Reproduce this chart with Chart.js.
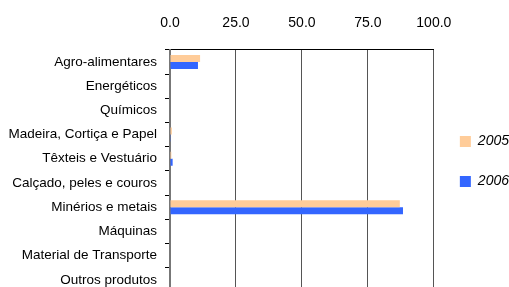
<html>
  <head>
    <meta charset="utf-8" />
    <script src="https://cdn.jsdelivr.net/npm/chart.js@4.4.1/dist/chart.umd.min.js"></script>
    <style>
      body { margin: 0; overflow: hidden; background: #fff; }
    </style>
  </head>
  <body>
    <canvas id="chart" width="509" height="308"></canvas>
    <script>
      var categories = [
        "Agro-alimentares",
        "Energéticos",
        "Químicos",
        "Madeira, Cortiça e Papel",
        "Têxteis e Vestuário",
        "Calçado, peles e couros",
        "Minérios e metais",
        "Máquinas",
        "Material de Transporte",
        "Outros produtos",
      ];
      var values2005 = [11.4, 0, 0, 0.7, 0.5, 0, 87.1, 0, 0, 0];
      var values2006 = [10.6, 0, 0, 0.1, 1.0, 0, 88.3, 0, 0, 0];
      var seriesLabels = ["2005", "2006"];

      Chart.defaults.font.family = "'Liberation Sans Narrow', 'Arial Narrow', 'Liberation Sans', sans-serif";
      Chart.defaults.color = "#000";

      var ctx = document.getElementById("chart").getContext("2d");
      var myChart = new Chart(ctx, {
        type: "bar",
        data: {
          labels: categories,
          datasets: [
            {
              label: seriesLabels[0],
              data: values2005,
              backgroundColor: "#FFCC99",
            },
            {
              label: seriesLabels[1],
              data: values2006,
              backgroundColor: "#3366FF",
            },
          ],
        },
        options: {
          responsive: false,
          animation: false,
          indexAxis: "y",
          categoryPercentage: 0.58,
          barPercentage: 1,
          layout: { padding: { left: 0, right: -10, top: -3, bottom: 0 } },
          plugins: {
            legend: {
              position: "right",
              // empty title only pushes the legend items down a bit
              title: {
                display: true,
                text: " ",
                font: { size: 10, lineHeight: 1.2 },
                padding: 3,
              },
              labels: {
                boxWidth: 11,
                boxHeight: 11,
                padding: 26,
                font: { size: 14, style: "italic" },
              },
            },
            tooltip: { enabled: false },
          },
          scales: {
            x: {
              position: "top",
              min: 0,
              max: 100,
              ticks: {
                stepSize: 25,
                padding: 18,
                font: { size: 14 },
                callback: (v) => v.toFixed(1),
              },
              grid: { color: "#555", drawTicks: false },
              border: { color: "#000", width: 1 },
            },
            y: {
              ticks: { font: { size: 13.5 }, padding: 8 },
              grid: {
                offset: true,
                drawOnChartArea: false,
                tickLength: 5,
                color: "#000",
              },
              border: { color: "#777", width: 2 },
              afterFit: (scale) => {
                scale.width = 170;
              },
            },
          },
        },
      });
    </script>
  </body>
</html>
